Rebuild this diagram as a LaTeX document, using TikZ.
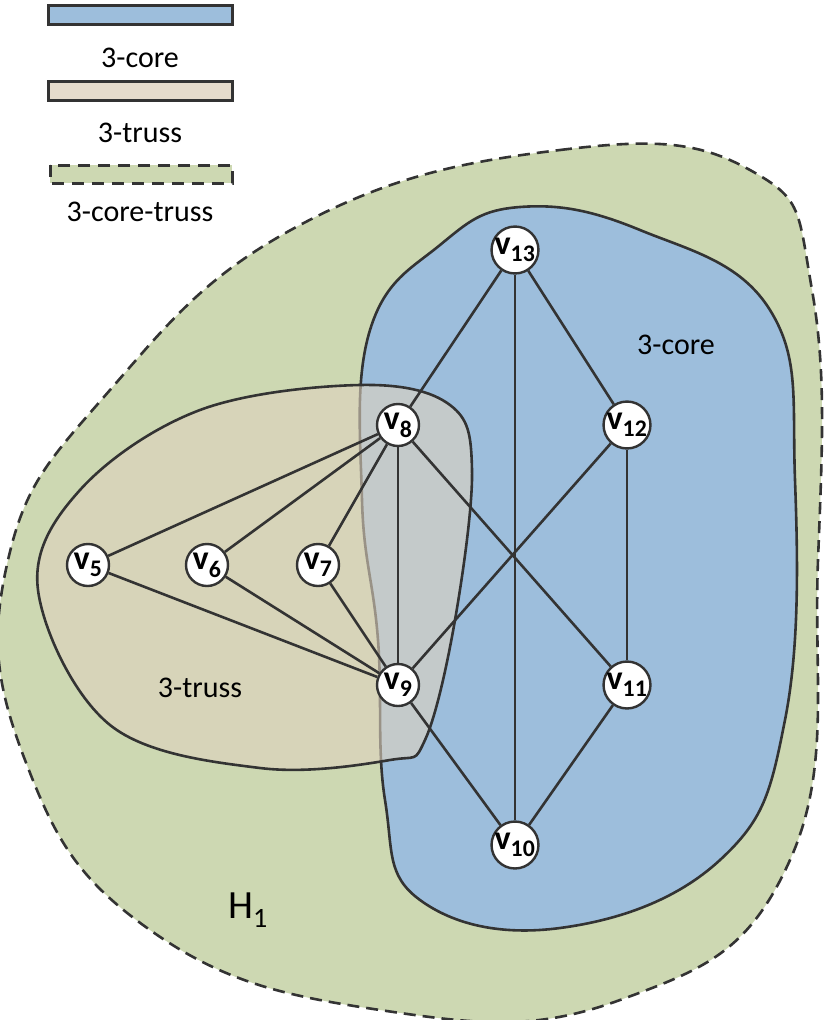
\documentclass[tikz,border=0pt]{standalone}
\usepackage{fontspec}
\setmainfont{Carlito}
\begin{document}
\begin{tikzpicture}[x=1pt,y=-1pt,
  vx/.style={circle,draw=black!80,line width=2.4pt,fill=white,minimum size=42pt,inner sep=0pt,font=\fontsize{34}{34}\selectfont\bfseries},
  ed/.style={draw=black!80,line width=2.6pt},
  lbl/.style={font=\fontsize{30}{30}\selectfont}]
\definecolor{gr}{RGB}{205,216,178}
\definecolor{bl}{RGB}{157,190,220}
\definecolor{tr}{RGB}{222,210,190}
\useasboundingbox (0,0) rectangle (827,1020);
% legend
\draw[black!80,line width=3pt,fill=bl] (48,5) rectangle (232,24);
\node[lbl] (l1) at (140,58) {3-core};
\draw[black!80,line width=3pt,fill=tr!80] (48,81) rectangle (232,100);
\node[lbl] (l2) at (140,133) {3-truss};
\draw[black!80,line width=3pt,dash pattern=on 12pt off 8pt,fill=gr] (50,165) rectangle (232,183);
\node[lbl] (l3) at (140,212) {3-core-truss};
% blobs
\draw[black!80,line width=2.6pt,dash pattern=on 12pt off 7pt,fill=gr] plot[smooth cycle,tension=0.75] coordinates
 {(300,225) (560,150) (750,170) (812,290) (818,560) (790,860) (620,1000) (380,1010) (150,930) (25,760) (8,560) (110,390)};
\draw[black!80,line width=2.6pt,fill=bl] plot[smooth cycle,tension=0.7] coordinates
 {(370,330) (440,245) (520,207) (640,230) (770,310) (795,480) (785,720) (720,860) (560,928) (420,900) (385,800) (378,640) (362,500)};
\draw[black!80,line width=2.6pt,fill=tr,fill opacity=0.6] plot[smooth cycle,tension=0.6] coordinates
 {(200,410) (360,385) (450,405) (472,470) (455,620) (425,740) (390,760) (260,768) (110,725) (38,590) (80,490)};
\node[lbl] (t1) at (676,345) {3-core};
\node[lbl] (t2) at (200,688) {3-truss};
\node[font=\fontsize{40}{40}\selectfont] (h) at (248,910) {H\textsubscript{1}};
% nodes
\node[vx] (v13) at (515,250) {v\textsubscript{13}};
\node[vx] (v8) at (398,425) {v\textsubscript{8}};
\node[vx] (v12) at (627,425) {v\textsubscript{12}};
\node[vx] (v5) at (88,565) {v\textsubscript{5}};
\node[vx] (v6) at (207,565) {v\textsubscript{6}};
\node[vx] (v7) at (318,565) {v\textsubscript{7}};
\node[vx] (v9) at (398,685) {v\textsubscript{9}};
\node[vx] (v11) at (627,685) {v\textsubscript{11}};
\node[vx] (v10) at (515,845) {v\textsubscript{10}};
\foreach \a/\b in {v13/v8,v13/v12,v13/v10,v8/v5,v8/v6,v8/v7,v8/v9,v8/v11,v12/v9,v12/v11,v5/v9,v6/v9,v7/v9,v9/v10,v11/v10}
  \draw[ed] (\a) -- (\b);
\end{tikzpicture}
\end{document}
